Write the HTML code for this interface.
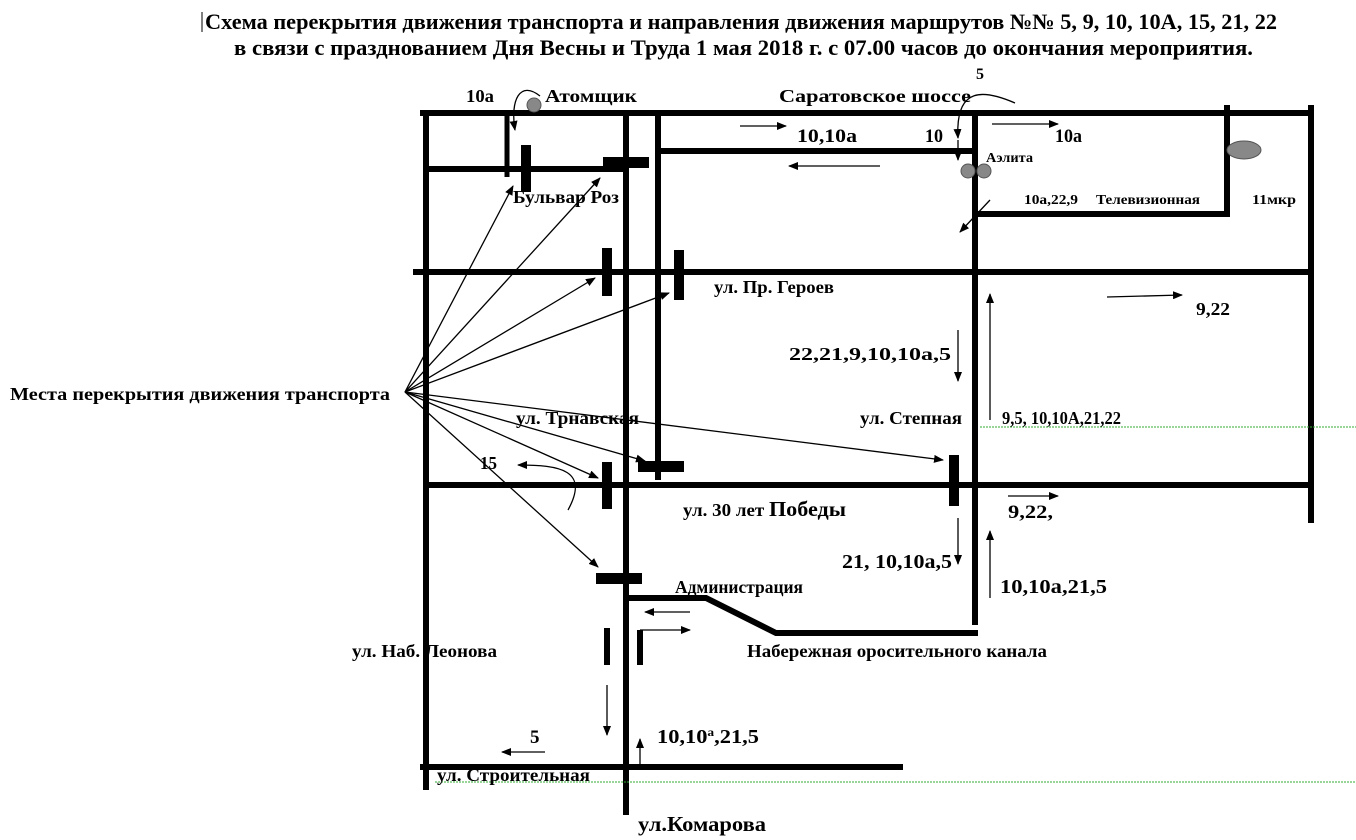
<!DOCTYPE html>
<html><head><meta charset="utf-8"><style>
html,body{margin:0;padding:0;background:#fff;width:1356px;height:840px;overflow:hidden}
svg{display:block}
text{font-family:"Liberation Serif",serif;font-weight:bold;fill:#000}
</style></head><body>
<svg width="1356" height="840" viewBox="0 0 1356 840" xmlns="http://www.w3.org/2000/svg">
<defs>
<marker id="a" markerWidth="10" markerHeight="8" refX="9" refY="4" orient="auto" markerUnits="userSpaceOnUse"><path d="M0,0 L10,4 L0,8 z" fill="#000"/></marker>
</defs>
<text x="205" y="29" font-size="22" textLength="1072" lengthAdjust="spacingAndGlyphs">Схема перекрытия движения транспорта и направления движения маршрутов  №№ 5, 9, 10, 10А, 15, 21, 22</text>
<line x1="202" y1="12" x2="202" y2="32" stroke="#000" stroke-width="1"/>
<text x="234" y="55" font-size="22" textLength="1019" lengthAdjust="spacingAndGlyphs">в связи с празднованием Дня  Весны и Труда 1 мая 2018 г. с 07.00 часов до окончания мероприятия.</text>

<g stroke="#000" stroke-width="6" fill="none">
<line x1="420" y1="113" x2="1314" y2="113"/>
<line x1="426" y1="110" x2="426" y2="790"/>
<line x1="626" y1="110" x2="626" y2="815"/>
<line x1="658" y1="110" x2="658" y2="480"/>
<line x1="507" y1="110" x2="507" y2="177" stroke-width="5"/>
<line x1="426" y1="169" x2="626" y2="169"/>
<line x1="658" y1="151" x2="975" y2="151"/>
<line x1="975" y1="110" x2="975" y2="625"/>
<line x1="1227" y1="105" x2="1227" y2="217"/>
<line x1="975" y1="214" x2="1227" y2="214"/>
<line x1="1311" y1="105" x2="1311" y2="523"/>
<line x1="413" y1="272" x2="1312" y2="272"/>
<line x1="426" y1="485" x2="1314" y2="485"/>
<polyline points="626,598 706,598 776,633 978,633"/>
<line x1="420" y1="767" x2="903" y2="767"/>
</g>
<g fill="#000">
<rect x="521" y="145" width="10" height="47"/>
<rect x="603" y="157" width="46" height="11"/>
<rect x="602" y="248" width="10" height="48"/>
<rect x="674" y="250" width="10" height="50"/>
<rect x="602" y="462" width="10" height="47"/>
<rect x="638" y="461" width="46" height="11"/>
<rect x="949" y="455" width="10" height="51"/>
<rect x="596" y="573" width="46" height="11"/>
<rect x="604" y="628" width="6" height="37"/>
<rect x="637" y="630" width="6" height="35"/>
</g>
<g fill="#888" stroke="#555" stroke-width="1">
<circle cx="534" cy="105" r="7"/>
<circle cx="968" cy="171" r="7"/>
<circle cx="984" cy="171" r="7"/>
<ellipse cx="1244" cy="150" rx="17" ry="9"/>
</g>
<g stroke="#000" stroke-width="1.3" fill="none" marker-end="url(#a)">
<line x1="405" y1="392" x2="513" y2="186"/>
<line x1="405" y1="392" x2="600" y2="178"/>
<line x1="405" y1="392" x2="595" y2="278"/>
<line x1="405" y1="392" x2="669" y2="293"/>
<line x1="405" y1="392" x2="645" y2="461"/>
<line x1="405" y1="392" x2="598" y2="478"/>
<line x1="405" y1="392" x2="943" y2="460"/>
<line x1="405" y1="392" x2="598" y2="567"/>
<path d="M540,96 C520,80 510,100 515,130"/>
<path d="M1015,103 C985,90 955,85 958,138"/>
<line x1="958" y1="140" x2="958" y2="160"/>
<path d="M568,510 C590,470 560,465 518,465"/>
<line x1="740" y1="126" x2="786" y2="126"/>
<line x1="880" y1="166" x2="789" y2="166"/>
<line x1="992" y1="124" x2="1058" y2="124"/>
<line x1="990" y1="200" x2="960" y2="232"/>
<line x1="1107" y1="297" x2="1182" y2="295"/>
<line x1="958" y1="330" x2="958" y2="381"/>
<line x1="990" y1="420" x2="990" y2="294"/>
<line x1="1008" y1="496" x2="1058" y2="496"/>
<line x1="958" y1="518" x2="958" y2="564"/>
<line x1="990" y1="598" x2="990" y2="531"/>
<line x1="690" y1="612" x2="645" y2="612"/>
<line x1="640" y1="630" x2="690" y2="630"/>
<line x1="607" y1="685" x2="607" y2="735"/>
<line x1="640" y1="765" x2="640" y2="739"/>
<line x1="545" y1="752" x2="502" y2="752"/>
</g>
<g stroke="#3a3" stroke-width="1" stroke-dasharray="2,1">
<line x1="980" y1="427" x2="1356" y2="427"/>
<line x1="435" y1="782" x2="1356" y2="782"/>
</g>
<text x="466" y="102" font-size="18" textLength="28" lengthAdjust="spacingAndGlyphs">10а</text>
<text x="545" y="102" font-size="18" textLength="92" lengthAdjust="spacingAndGlyphs">Атомщик</text>
<text x="779" y="102" font-size="18" textLength="192" lengthAdjust="spacingAndGlyphs">Саратовское шоссе</text>
<text x="976" y="79" font-size="16">5</text>
<text x="797" y="142" font-size="19" textLength="60" lengthAdjust="spacingAndGlyphs">10,10а</text>
<text x="925" y="142" font-size="19" textLength="18" lengthAdjust="spacingAndGlyphs">10</text>
<text x="1055" y="142" font-size="19" textLength="27" lengthAdjust="spacingAndGlyphs">10а</text>
<text x="986" y="162" font-size="14" textLength="47" lengthAdjust="spacingAndGlyphs">Аэлита</text>
<text x="1024" y="204" font-size="14" textLength="54" lengthAdjust="spacingAndGlyphs">10а,22,9</text>
<text x="1096" y="204" font-size="14" textLength="104" lengthAdjust="spacingAndGlyphs">Телевизионная</text>
<text x="1252" y="204" font-size="14" textLength="44" lengthAdjust="spacingAndGlyphs">11мкр</text>
<text x="513" y="203" font-size="18" textLength="106" lengthAdjust="spacingAndGlyphs">Бульвар Роз</text>
<text x="714" y="293" font-size="18" textLength="120" lengthAdjust="spacingAndGlyphs">ул. Пр. Героев</text>
<text x="1196" y="315" font-size="18" textLength="34" lengthAdjust="spacingAndGlyphs">9,22</text>
<text x="789" y="360" font-size="18" textLength="162" lengthAdjust="spacingAndGlyphs">22,21,9,10,10а,5</text>
<text x="10" y="400" font-size="18" textLength="380" lengthAdjust="spacingAndGlyphs">Места перекрытия движения транспорта</text>
<text x="516" y="424" font-size="18" textLength="123" lengthAdjust="spacingAndGlyphs">ул. Трнавская</text>
<text x="860" y="424" font-size="18" textLength="102" lengthAdjust="spacingAndGlyphs">ул. Степная</text>
<text x="1002" y="424" font-size="18" textLength="119" lengthAdjust="spacingAndGlyphs">9,5,  10,10А,21,22</text>
<text x="480" y="469" font-size="18" textLength="17" lengthAdjust="spacingAndGlyphs">15</text>
<text x="683" y="516" font-size="18" textLength="163" lengthAdjust="spacingAndGlyphs">ул. 30 лет <tspan font-size="21">Победы</tspan></text>
<text x="1008" y="518" font-size="19" textLength="45" lengthAdjust="spacingAndGlyphs">9,22,</text>
<text x="842" y="568" font-size="20" textLength="110" lengthAdjust="spacingAndGlyphs">21, 10,10а,5</text>
<text x="1000" y="593" font-size="20" textLength="107" lengthAdjust="spacingAndGlyphs">10,10а,21,5</text>
<text x="675" y="593" font-size="18" font-weight="normal" textLength="128" lengthAdjust="spacingAndGlyphs">Администрация</text>
<text x="352" y="657" font-size="18" textLength="145" lengthAdjust="spacingAndGlyphs">ул. Наб. Леонова</text>
<text x="747" y="657" font-size="18" textLength="300" lengthAdjust="spacingAndGlyphs">Набережная оросительного канала</text>
<text x="530" y="743" font-size="19">5</text>
<text x="657" y="743" font-size="20" textLength="102" lengthAdjust="spacingAndGlyphs">10,10<tspan font-size="12" dy="-7">а</tspan><tspan dy="7">,21,5</tspan></text>
<text x="437" y="781" font-size="18" textLength="153" lengthAdjust="spacingAndGlyphs">ул. Строительная</text>
<text x="638" y="831" font-size="21" textLength="128" lengthAdjust="spacingAndGlyphs">ул.Комарова</text>
</svg>
</body></html>
